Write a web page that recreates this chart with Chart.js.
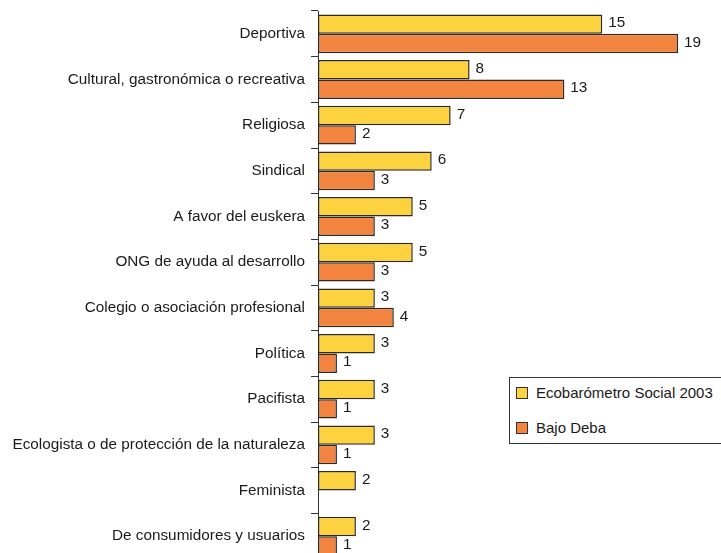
<!DOCTYPE html>
<html>
<head>
<meta charset="utf-8">
<script src="https://cdn.jsdelivr.net/npm/chart.js"></script>
<style>
  html, body { margin: 0; padding: 0; background: #fff; overflow: hidden; }
  #wrap { position: relative; width: 721px; height: 575px; }
  #legend {
    position: absolute; left: 509px; top: 377px; width: 230px; height: 65px;
    border: 1px solid #333; background: #fff;
    font: 15px "Liberation Sans", Arial, sans-serif; color: #1a1a1a;
  }
  #legend .item { position: absolute; left: 6px; display: flex; align-items: center; line-height: 18px; }
  #legend .sw { width: 10px; height: 10px; border: 1px solid #333; margin-right: 8px; }
</style>
</head>
<body>
<div id="wrap">
  <canvas id="chart" width="721" height="575"></canvas>
  <div id="legend">
    <div class="item" style="top:6px"><span class="sw" style="background:#fdd23f"></span>Ecobarómetro Social 2003</div>
    <div class="item" style="top:41px"><span class="sw" style="background:#f3843f"></span>Bajo Deba</div>
  </div>
</div>
<script>
// Asociaciones (%), tal como aparecen en el gráfico
const categories = [
  'Deportiva',
  'Cultural, gastronómica o recreativa',
  'Religiosa',
  'Sindical',
  'A favor del euskera',
  'ONG de ayuda al desarrollo',
  'Colegio o asociación profesional',
  'Política',
  'Pacifista',
  'Ecologista o de protección de la naturaleza',
  'Feminista',
  'De consumidores y usuarios'
];
const ecobarometro = [15, 8, 7, 6, 5, 5, 3, 3, 3, 3, 2, 2];
const bajoDeba = [19, 13, 2, 3, 3, 3, 4, 1, 1, 1, null, 1];

const FONT = '"Liberation Sans", Arial, sans-serif';

// value labels to the right of each bar
const valueLabels = {
  id: 'valueLabels',
  afterDatasetsDraw(chart) {
    const ctx = chart.ctx;
    ctx.save();
    ctx.font = '15.3px ' + FONT;
    ctx.fillStyle = '#1a1a1a';
    ctx.textAlign = 'left';
    ctx.textBaseline = 'middle';
    chart.data.datasets.forEach((ds, i) => {
      chart.getDatasetMeta(i).data.forEach((bar, j) => {
        const v = ds.data[j];
        if (v === null || v === undefined) return;
        ctx.fillText(String(v), bar.x + 6, bar.y - 1);
      });
    });
    ctx.restore();
  }
};

new Chart(document.getElementById('chart'), {
  type: 'bar',
  data: {
    labels: categories,
    datasets: [
      {
        label: 'Ecobarómetro Social 2003',
        data: ecobarometro,
        backgroundColor: '#fdd23f',
        borderColor: '#2e2a22',
        borderWidth: 1.5,
        borderSkipped: false
      },
      {
        label: 'Bajo Deba',
        data: bajoDeba,
        backgroundColor: '#f3843f',
        borderColor: '#2e2a22',
        borderWidth: 1.5,
        borderSkipped: false
      }
    ]
  },
  options: {
    indexAxis: 'y',
    responsive: false,
    animation: false,
    layout: { padding: { top: 11, right: 24, bottom: 16, left: 0 } },
    datasets: { bar: { categoryPercentage: 0.85, barPercentage: 1.0 } },
    scales: {
      x: { display: false, min: 0, max: 20 },
      y: {
        afterFit: (scale) => {
          scale.width = 318;
          scale.paddingTop = 0;
          scale.paddingBottom = 0;
        },
        border: { display: true, color: '#333', width: 1 },
        grid: {
          offset: true,
          drawOnChartArea: false,
          drawTicks: true,
          tickLength: 7,
          color: '#333'
        },
        ticks: {
          color: '#1a1a1a',
          padding: 6,
          font: { family: FONT, size: 15.3 }
        }
      }
    },
    plugins: {
      legend: { display: false },
      tooltip: { enabled: false }
    }
  },
  plugins: [valueLabels]
});
</script>
</body>
</html>
